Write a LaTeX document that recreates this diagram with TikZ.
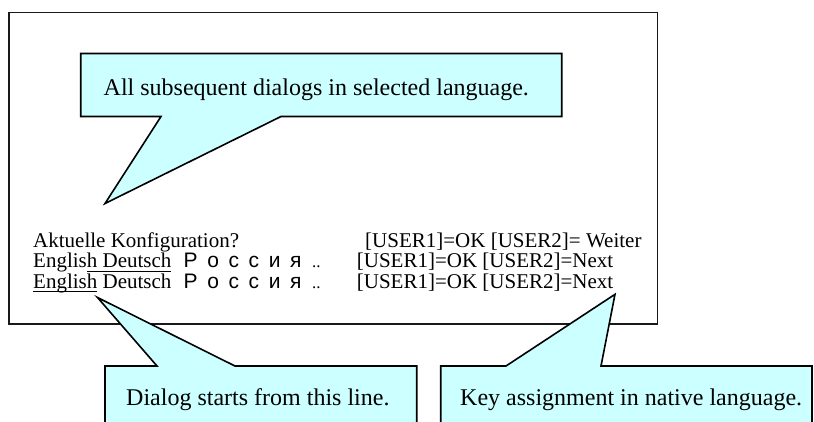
\documentclass[tikz,border=0pt]{standalone}
\usepackage{fontspec}
\setmainfont{Liberation Serif}
\newfontfamily\rusfont{Liberation Sans}[WordSpace=1.65]
\definecolor{calloutfill}{RGB}{204,255,255}
\newcommand{\myul}[1]{\setbox0\hbox{#1}\rlap{\rule[-3.8pt]{\wd0}{0.8pt}}\box0\relax}
\tikzset{
  callout/.style={draw=black, line width=1.6pt, fill=calloutfill, line join=miter},
  frame/.style={draw=black!90, line width=1.4pt},
  calltext/.style={anchor=base west, inner sep=0pt, font=\fontsize{24}{28}\selectfont},
  dlgtext/.style={anchor=base west, inner sep=0pt, font=\fontsize{21}{24}\selectfont},
}
\begin{document}
\begin{tikzpicture}[x=1pt,y=-1pt]
\useasboundingbox (0,0) rectangle (814,421);
\clip (0,0) rectangle (814,421);
% outer frame
\draw[frame] (9,12.3) rectangle (657.3,324);
% top callout
\coordinate (tip1) at (105,203.5);
\draw[callout] (80.7,53.5) -- (561.7,53.5) -- (561.7,116.5) -- (281,116.5) -- (tip1) -- (161,116.5) -- (80.7,116.5) -- cycle;
\node[calltext] (t1) at (103.5,95) {All subsequent dialogs in selected language.};
% bottom-left callout
\coordinate (tip2) at (97.5,297.5);
\draw[callout] (105,430) -- (105,366) -- (157,366) -- (tip2) -- (235,366) -- (416.7,366) -- (416.7,430);
\node[calltext] (t2) at (126,405) {Dialog starts from this line.};
% bottom-right callout
\coordinate (tip3) at (615,294.3);
\draw[callout] (440.7,430) -- (440.7,366) -- (506,366) -- (tip3) -- (601,366) -- (812,366) -- (812,430);
\node[calltext] (t3) at (460,405) {Key assignment in native language.};
% dialog lines
\node[dlgtext] (l1a) at (33,247) {Aktuelle Konfiguration?};
\node[dlgtext] (l1b) at (365,247) {[USER1]=OK [USER2]= Weiter};
\node[dlgtext] (l2a) at (33,267.5) {Englis\myul{h Deutsch}\ \hspace{7pt}{\rusfont Р о с с и я}\ \ {\fontsize{17}{20}\selectfont ..}};
\node[dlgtext] (l2b) at (356.7,267.5) {[USER1]=OK [USER2]=Next};
\node[dlgtext] (l3a) at (33,288) {\myul{English}\ Deutsch\ \hspace{7pt}{\rusfont Р о с с и я}\ \ {\fontsize{17}{20}\selectfont ..}};
\node[dlgtext] (l3b) at (356.7,288) {[USER1]=OK [USER2]=Next};
\end{tikzpicture}
\end{document}
